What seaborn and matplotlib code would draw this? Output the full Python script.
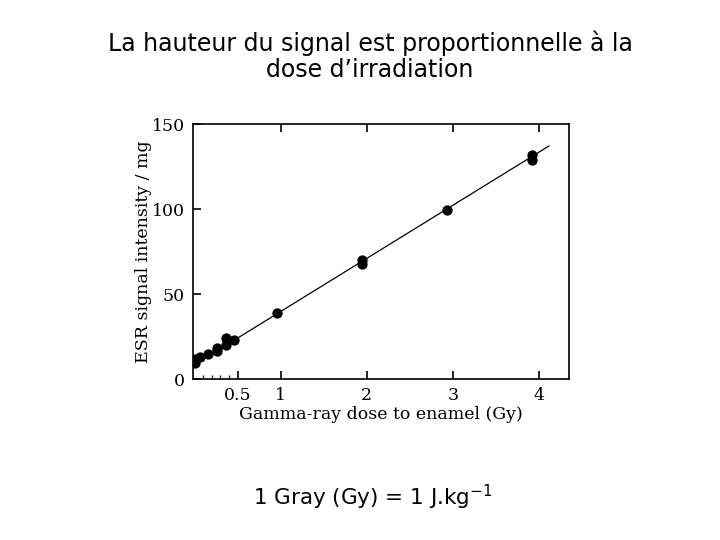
import numpy as np
import pandas as pd
import seaborn as sns
import matplotlib.pyplot as plt
from matplotlib.ticker import FixedLocator

# values
dose_gy = [0.0, 0.0, 0.06, 0.16, 0.26, 0.26, 0.36, 0.36, 0.46, 0.96,
           1.94, 1.94, 2.93, 3.92, 3.92]
esr_signal = [9.5, 12.0, 13.0, 15.0, 16.5, 18.0, 20.0, 24.3, 23.1, 38.8,
              67.8, 70.2, 99.6, 129.0, 131.8]

# fitted straight line, drawn only over its visible span
fit_x = [0.45, 4.12]
fit_y = [22.6, 137.2]

x_ticks = [0.5, 1, 2, 3, 4]
x_ticklabels = ['0.5', '1', '2', '3', '4']
x_minor = [0.1, 0.2, 0.3, 0.4]
top_ticks = [1, 2, 3, 4]
y_ticks = [0, 50, 100, 150]

sns.set_theme(style='white')
plt.rcParams['font.family'] = ['DejaVu Serif']
plt.rcParams['text.color'] = 'black'

data = pd.DataFrame({'dose': dose_gy, 'signal': esr_signal})
line = pd.DataFrame({'dose': fit_x, 'signal': fit_y})

fig = plt.figure(figsize=(7.2, 5.4), dpi=100)
ax = fig.add_axes([0.268, 0.298, 0.522, 0.472])

sns.lineplot(data=line, x='dose', y='signal', color='black', linewidth=0.9, ax=ax)
sns.scatterplot(data=data, x='dose', y='signal', color='black', s=55,
                edgecolor='black', linewidth=0, ax=ax, zorder=3)

ax.set_xlim(-0.02, 4.35)
ax.set_ylim(0, 150)
ax.xaxis.set_major_locator(FixedLocator(x_ticks))
ax.set_xticklabels(x_ticklabels)
ax.xaxis.set_minor_locator(FixedLocator(x_minor))
ax.set_yticks(y_ticks)
ax.tick_params(axis='both', which='major', direction='in', length=6, width=1.2,
               labelsize=12.5, colors='black', labelcolor='black', pad=6,
               bottom=True, left=True, top=False, right=False)
ax.tick_params(axis='x', which='minor', direction='in', length=3, width=1,
               bottom=True, top=False)

top = ax.secondary_xaxis('top')
top.set_xticks(top_ticks)
top.set_xticklabels([])
top.tick_params(direction='in', length=6, width=1.2, top=True, colors='black')
top.spines['top'].set_visible(False)

for side in ax.spines.values():
    side.set_color('black')
    side.set_linewidth(1.2)

ax.set_xlabel('Gamma-ray dose to enamel (Gy)', fontsize=12.5, color='black', labelpad=1)
ax.set_ylabel('ESR signal intensity / mg', fontsize=12.5, color='black', labelpad=0)

fig.text(0.514, 0.895, 'La hauteur du signal est proportionnelle à la\ndose d\u2019irradiation',
         ha='center', va='center', fontsize=17, family=['DejaVu Sans'],
         color='black', linespacing=1.1)
fig.text(0.518, 0.078, r'1 Gray (Gy) = 1 J.kg$^{-1}$', ha='center', va='center',
         fontsize=15.5, family=['DejaVu Sans'], color='black')

plt.savefig('out.png', dpi=100)
